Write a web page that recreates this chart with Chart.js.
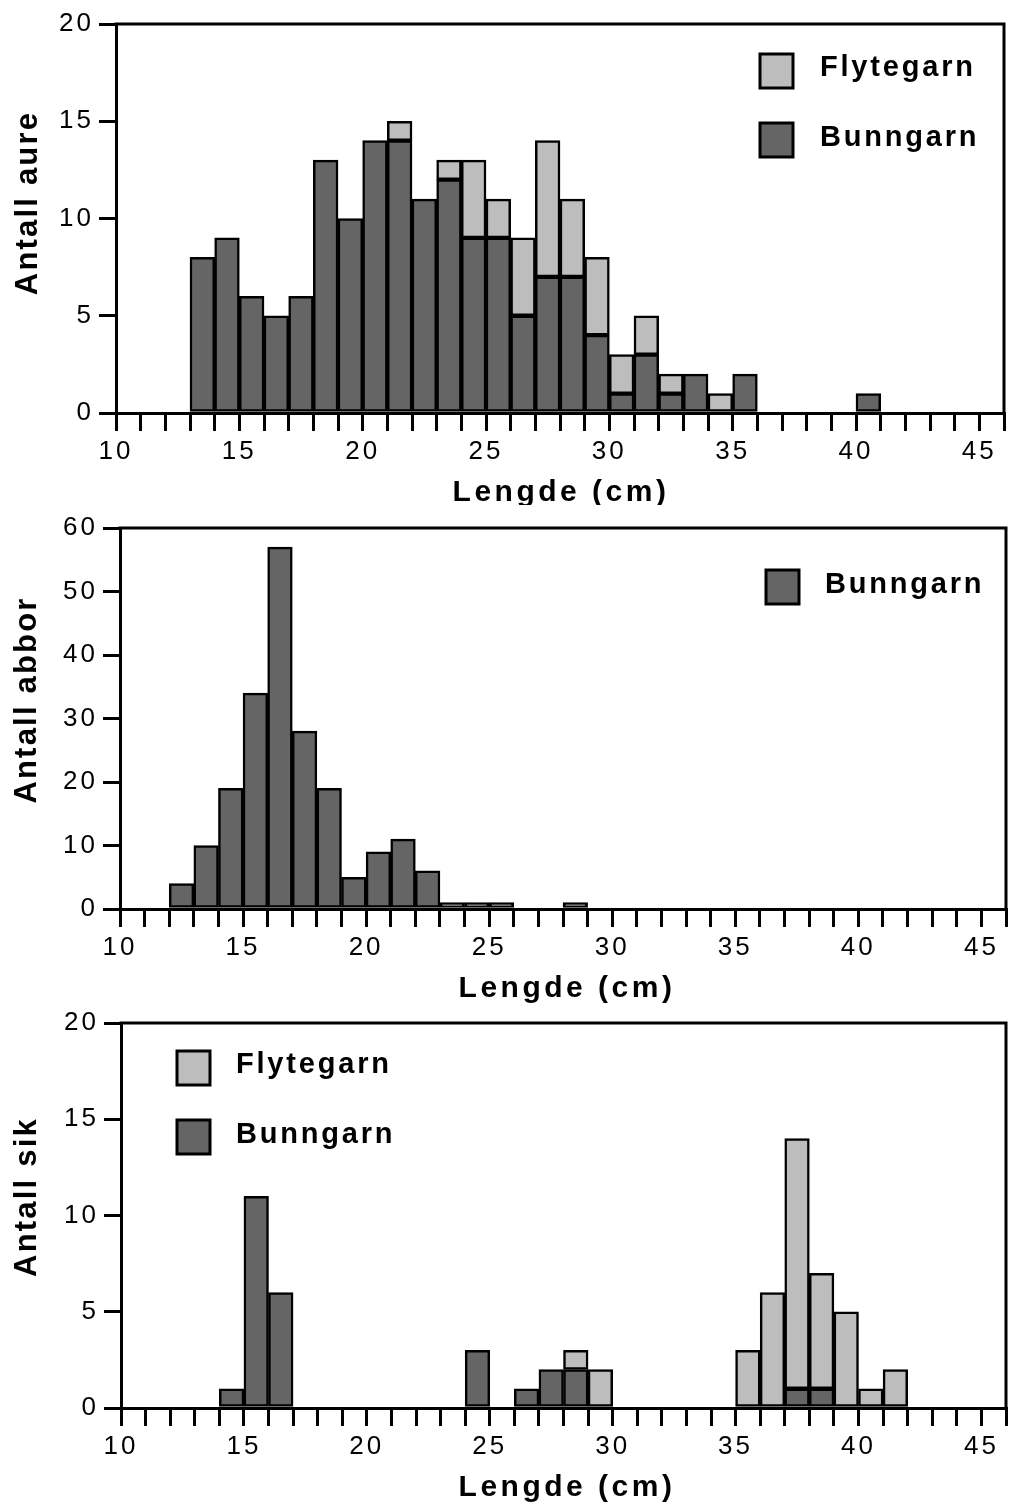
<!DOCTYPE html>
<html>
<head>
<meta charset="utf-8">
<script src="https://cdn.jsdelivr.net/npm/chart.js@4.4.1/dist/chart.umd.min.js"></script>
<style>
html, body { margin: 0; padding: 0; background: #fff; }
body { width: 1011px; height: 1507px; position: relative; overflow: hidden; }
.panel { position: absolute; left: 0; width: 1011px; }
canvas { display: block; }
</style>
</head>
<body>
<div class="panel" style="top:0px;height:505px"><canvas id="c1"></canvas></div>
<div class="panel" style="top:505px;height:512px"><canvas id="c2"></canvas></div>
<div class="panel" style="top:1000px;height:507px"><canvas id="c3"></canvas></div>
<script>
// ---------------- DATA ----------------
// Length classes (cm): lower edge of each 1-cm bin, 10 ... 45
const binStarts = [10,11,12,13,14,15,16,17,18,19,20,21,22,23,24,25,26,27,28,29,30,31,32,33,34,35,36,37,38,39,40,41,42,43,44,45];

// Aure (trout): counts per bin
const aureBunngarn   = [null,null,null,8,9,6,5,6,13,10,14,14,11,12,9,9,5,7,7,4,1,3,1,2,null,2,null,null,null,null,1,null,null,null,null,null];
const aureFlytegarn  = [null,null,null,null,null,null,null,null,null,null,null,1,null,1,4,2,4,7,4,4,2,2,1,null,1,null,null,null,null,null,null,null,null,null,null,null];

// Abbor (perch): counts per bin
const abborBunngarn  = [null,null,4,10,19,34,57,28,19,5,9,11,6,1,1,1,null,null,1,null,null,null,null,null,null,null,null,null,null,null,null,null,null,null,null,null];

// Sik (whitefish): counts per bin
const sikBunngarn    = [null,null,null,null,1,11,6,null,null,null,null,null,null,null,3,null,1,2,2,null,null,null,null,null,null,null,null,1,1,null,null,null,null,null,null,null];
const sikFlytegarn   = [null,null,null,null,null,null,null,null,null,null,null,null,null,null,null,null,null,null,1,2,null,null,null,null,null,3,6,13,6,5,1,2,null,null,null,null];

const xTicksLabelled = [10,15,20,25,30,35,40,45];
const xTitle = 'Lengde (cm)';
const labelFlyte = 'Flytegarn';
const labelBunn = 'Bunngarn';

// ---------------- STYLE ----------------
const DARK = '#656565';
const LIGHT = '#bdbdbd';
const FONT = '"Liberation Sans", Arial, Helvetica, sans-serif';

const decoPlugin = {
  id: 'deco',
  beforeDraw(chart) {
    chart.ctx.letterSpacing = '3px';
  },
  afterDraw(chart, args, o) {
    const ctx = chart.ctx;
    const a = chart.chartArea;
    ctx.save();
    ctx.letterSpacing = '0px';
    // frame (top and right)
    ctx.strokeStyle = '#000';
    ctx.lineWidth = 3;
    ctx.lineCap = 'square';
    ctx.beginPath();
    ctx.moveTo(a.left, a.top);
    ctx.lineTo(a.right, a.top);
    ctx.lineTo(a.right, a.bottom);
    ctx.stroke();
    // legend
    ctx.font = 'bold 29px ' + FONT;
    ctx.letterSpacing = '2.8px';
    ctx.textBaseline = 'middle';
    ctx.textAlign = 'left';
    o.legend.forEach(it => {
      ctx.fillStyle = it.color;
      ctx.fillRect(it.bx, it.by, it.bw, it.bh);
      ctx.lineWidth = 3;
      ctx.strokeStyle = '#000';
      ctx.strokeRect(it.bx, it.by, it.bw, it.bh);
      ctx.fillStyle = '#000';
      ctx.fillText(it.text, it.tx, it.ty);
    });
    // x title
    ctx.font = 'bold 30px ' + FONT;
    ctx.letterSpacing = '3.5px';
    ctx.textAlign = 'center';
    ctx.textBaseline = 'middle';
    ctx.fillStyle = '#000';
    ctx.fillText(o.xTitle, o.xTitleX, o.xTitleY);
    // y title
    ctx.font = 'bold 31px ' + FONT;
    ctx.letterSpacing = '2.2px';
    ctx.translate(o.yTitleX, o.yTitleY);
    ctx.rotate(-Math.PI / 2);
    ctx.fillText(o.yTitle, 0, 0);
    ctx.restore();
    ctx.letterSpacing = '0px';
  }
};

function toPoints(values) {
  return binStarts.map((b, i) => ({ x: b + 0.5, y: values[i] }));
}

function makeChart(id, cfg) {
  const p = cfg.plot;
  const datasets = cfg.series.map(s => ({
    label: s.label,
    data: toPoints(s.values),
    backgroundColor: s.color,
    borderColor: '#000',
    borderWidth: 2.5,
    borderSkipped: false,
    barPercentage: 1,
    categoryPercentage: 1
  }));
  return new Chart(document.getElementById(id), {
    type: 'bar',
    data: { datasets },
    plugins: [decoPlugin],
    options: {
      responsive: true,
      maintainAspectRatio: false,
      animation: false,
      events: [],
      layout: { padding: { left: 0, right: 1011 - p.right, top: p.top - cfg.canvasTop, bottom: 0 } },
      plugins: {
        legend: { display: false },
        tooltip: { enabled: false },
        deco: {
          legend: cfg.legend,
          xTitle: xTitle,
          xTitleX: cfg.xTitleX, xTitleY: cfg.xTitleY - cfg.canvasTop,
          yTitle: cfg.yTitle,
          yTitleX: cfg.yTitleX, yTitleY: cfg.yTitleY - cfg.canvasTop
        }
      },
      scales: {
        x: {
          type: 'linear',
          stacked: true,
          min: 10, max: 46,
          offset: false,
          z: 1,
          afterFit: s => { s.height = cfg.canvasTop + cfg.canvasH - p.bottom; },
          ticks: {
            stepSize: 1, autoSkip: false, maxRotation: 0, minRotation: 0,
            padding: 5, color: '#000',
            font: { family: FONT, size: 26 },
            callback: v => xTicksLabelled.includes(v) ? String(v) : ''
          },
          grid: { offset: false, drawOnChartArea: false, drawTicks: true, tickLength: 18, lineWidth: 3, color: '#000' },
          border: { display: true, width: 3, color: '#000' }
        },
        y: {
          stacked: true,
          min: 0, max: cfg.yMax,
          z: 1,
          afterFit: s => { s.width = p.left; },
          ticks: { stepSize: cfg.yStep, padding: 5, color: '#000', font: { family: FONT, size: 26 } },
          grid: { drawOnChartArea: false, drawTicks: true, tickLength: 17, lineWidth: 3, color: '#000' },
          border: { display: true, width: 3, color: '#000' }
        }
      }
    }
  });
}

// Panel 1: aure
makeChart('c1', {
  canvasTop: 0, canvasH: 505,
  plot: { left: 116, right: 1004, top: 24, bottom: 413 },
  yMax: 20, yStep: 5,
  yTitle: 'Antall aure', yTitleX: 28, yTitleY: 203,
  xTitleX: 561, xTitleY: 493,
  series: [
    { label: labelBunn, values: aureBunngarn, color: DARK },
    { label: labelFlyte, values: aureFlytegarn, color: LIGHT }
  ],
  legend: [
    { text: labelFlyte, color: LIGHT, bx: 760, by: 54, bw: 33, bh: 34, tx: 820, ty: 68 },
    { text: labelBunn, color: DARK, bx: 760, by: 123, bw: 33, bh: 34, tx: 820, ty: 138 }
  ]
});

// Panel 2: abbor
makeChart('c2', {
  canvasTop: 505, canvasH: 512,
  plot: { left: 120, right: 1008, top: 528, bottom: 909 },
  yMax: 60, yStep: 10,
  yTitle: 'Antall abbor', yTitleX: 27, yTitleY: 700,
  xTitleX: 567, xTitleY: 989,
  series: [
    { label: labelBunn, values: abborBunngarn, color: DARK }
  ],
  legend: [
    { text: labelBunn, color: DARK, bx: 766, by: 65, bw: 33, bh: 34, tx: 825, ty: 80 }
  ]
});

// Panel 3: sik
makeChart('c3', {
  canvasTop: 1000, canvasH: 507,
  plot: { left: 121, right: 1009, top: 1023, bottom: 1408 },
  yMax: 20, yStep: 5,
  yTitle: 'Antall sik', yTitleX: 27, yTitleY: 1197,
  xTitleX: 567, xTitleY: 1488,
  series: [
    { label: labelBunn, values: sikBunngarn, color: DARK },
    { label: labelFlyte, values: sikFlytegarn, color: LIGHT }
  ],
  legend: [
    { text: labelFlyte, color: LIGHT, bx: 177, by: 51, bw: 33, bh: 34, tx: 236, ty: 65 },
    { text: labelBunn, color: DARK, bx: 177, by: 120, bw: 33, bh: 34, tx: 236, ty: 135 }
  ]
});
</script>
</body>
</html>
